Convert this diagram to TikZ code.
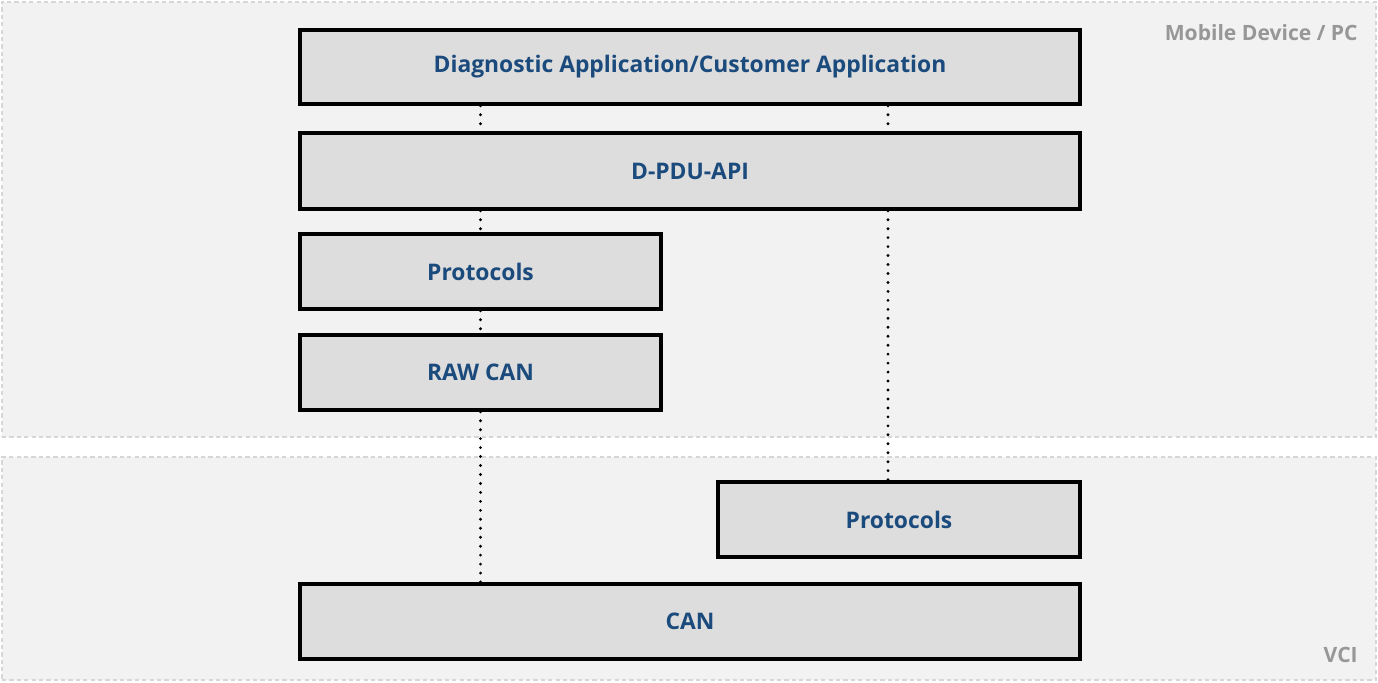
\documentclass[tikz,border=0pt]{standalone}
\usepackage{fontspec}
\setmainfont{Open Sans}
\usetikzlibrary{positioning}

\definecolor{layerfill}{HTML}{DDDDDD}
\definecolor{zonefill}{HTML}{F2F2F2}
\definecolor{zoneline}{HTML}{D6D6D6}
\definecolor{layertext}{HTML}{1B4A7C}
\definecolor{zonetext}{HTML}{979797}

\tikzset{
  layer/.style={shape=rectangle, draw, line width=2pt, fill=layerfill, inner sep=0pt,
    minimum height=1.5cm, text=layertext, font=\bfseries\fontsize{13}{15}\selectfont},
  zone/.style={shape=rectangle, draw=zoneline, fill=zonefill, line width=0.6pt,
    dash pattern=on 2.4pt off 1.8pt, inner sep=0pt},
  zonelabel/.style={anchor=east, inner sep=0pt, text=zonetext, font=\bfseries\fontsize{12}{14}\selectfont},
  link/.style={line width=1.8pt, dash pattern=on 0pt off 5.1pt, line cap=round}
}

\begin{document}
\begin{tikzpicture}
	\useasboundingbox (0,0) rectangle (27.56,13.64);
	% Zones:
	\node[zone, minimum width=27.48cm, minimum height=8.7cm] (pc) at (13.78, 9.25){};
	\node[zone, minimum width=27.48cm, minimum height=4.46cm] (vci) at (13.78, 2.27){};
	\node[zonelabel] (pclabel) at (27.16, 12.98){Mobile Device / PC};
	\node[zonelabel] (vcilabel) at (27.16, 0.54){VCI};
	% Layers:
	\node[layer, minimum width=15.6cm, minimum height=1.48cm] (app) at (13.8, 12.3){Diagnostic Application/Customer Application};
	\node[layer, minimum width=15.6cm, minimum height=1.52cm] (api) at (13.8, 10.22){D-PDU-API};
	\node[layer, minimum width=7.22cm] (proto) at (9.61, 8.21){Protocols};
	\node[layer, minimum width=7.22cm] (rawcan) at (9.61, 6.19){RAW CAN};
	\node[layer, minimum width=7.24cm] (vciproto) at (17.98, 3.25){Protocols};
	\node[layer, minimum width=15.6cm] (can) at (13.8, 1.21){CAN};
	% Wires:
	\coordinate (tap) at (17.76, 0);
	\draw[link] (proto.north |- app.south) -- (proto.north |- api.north);
	\draw[link] (tap |- app.south) -- (tap |- api.north);
	\draw[link] (proto.north |- api.south) -- (proto.north);
	\draw[link] (proto.south) -- (rawcan.north);
	\draw[link] (rawcan.south) -- (rawcan.south |- can.north);
	\draw[link] (tap |- api.south) -- (tap |- vciproto.north);
\end{tikzpicture}
\end{document}
